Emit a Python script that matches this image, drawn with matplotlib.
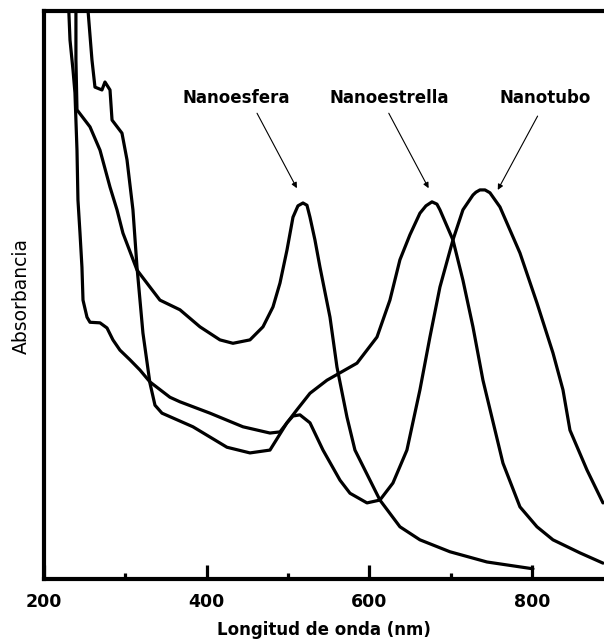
import matplotlib
matplotlib.use("Agg")
import matplotlib.pyplot as plt

plt.rcParams["font.family"] = ["DejaVu Sans"]

# wavelength (nm) / absorbance (a.u.)
esfera_wl = [239.3, 239.3, 240.6, 256.6, 268.9, 281.2, 289.8, 297.1, 314.4, 330.3,
             342.6, 367.2, 391.8, 416.4, 432.4, 453.3, 469.3, 481.6, 490.2, 498.8,
             506.2, 512.3, 518.5, 523.4, 527.1, 533.2, 539.4, 551.7, 560.3, 572.6,
             582.4, 613.1, 637.7, 662.3, 699.2, 744.7, 801.3]
esfera_abs = [1.037, 0.914, 0.826, 0.796, 0.755, 0.690, 0.650, 0.609, 0.544, 0.514,
              0.491, 0.474, 0.444, 0.421, 0.415, 0.421, 0.444, 0.479, 0.521, 0.579,
              0.637, 0.657, 0.662, 0.658, 0.637, 0.597, 0.549, 0.461, 0.373, 0.285,
              0.227, 0.139, 0.092, 0.069, 0.048, 0.030, 0.018]

estrella_wl = [229.5, 232.0, 235.7, 238.1, 240.6, 241.8, 244.3, 246.7, 248.0, 252.9,
               256.6, 268.9, 277.5, 284.8, 293.4, 305.7, 318.0, 330.3, 354.9, 367.2,
               404.1, 444.7, 477.9, 490.2, 498.8, 511.1, 527.1, 548.0, 564.0, 584.9,
               609.5, 625.4, 637.7, 650.0, 662.3, 669.7, 677.1, 683.2, 686.9, 702.9,
               715.2, 727.5, 739.8, 764.4, 785.3, 806.2, 825.9, 859.1, 887.4]
estrella_abs = [1.037, 0.949, 0.896, 0.856, 0.755, 0.667, 0.609, 0.549, 0.491, 0.461,
                0.452, 0.451, 0.442, 0.421, 0.403, 0.386, 0.368, 0.347, 0.320, 0.312,
                0.292, 0.268, 0.257, 0.259, 0.275, 0.298, 0.327, 0.350, 0.363, 0.380,
                0.426, 0.491, 0.562, 0.606, 0.644, 0.657, 0.664, 0.660, 0.650, 0.597,
                0.526, 0.444, 0.350, 0.204, 0.127, 0.092, 0.069, 0.046, 0.028]

tubo_wl = [254.1, 254.1, 259.0, 262.7, 271.3, 275.0, 281.2, 283.7, 295.9, 302.1,
           309.4, 314.4, 321.7, 330.3, 336.5, 345.1, 383.2, 425.0, 453.3, 477.9,
           498.8, 506.2, 514.8, 527.1, 543.1, 564.0, 576.3, 597.2, 613.1, 629.1,
           646.3, 662.3, 674.6, 686.9, 702.9, 715.2, 727.5, 731.2, 736.1, 742.3,
           748.4, 760.7, 785.3, 806.2, 825.9, 838.2, 846.8, 867.7, 887.4]
tubo_abs = [1.037, 1.002, 0.914, 0.866, 0.861, 0.875, 0.861, 0.808, 0.785, 0.738,
            0.650, 0.549, 0.433, 0.345, 0.306, 0.292, 0.268, 0.232, 0.222, 0.227,
            0.275, 0.287, 0.289, 0.275, 0.227, 0.174, 0.151, 0.134, 0.139, 0.169,
            0.227, 0.333, 0.426, 0.514, 0.597, 0.650, 0.676, 0.681, 0.685, 0.685,
            0.680, 0.655, 0.574, 0.486, 0.398, 0.333, 0.262, 0.192, 0.134]

labels = ["Nanoesfera", "Nanoestrella", "Nanotubo"]
label_xy = [(436, 0.847), (624, 0.847), (816, 0.847)]
arrow_start = [(462, 0.820), (624, 0.820), (807, 0.815)]
arrow_end = [(511, 0.688), (673, 0.688), (758, 0.685)]

fig = plt.figure(figsize=(6.04, 6.43), dpi=100)
ax = fig.add_axes([0.0728, 0.0995, 0.927, 0.8834])

for wl, ab in [(esfera_wl, esfera_abs), (estrella_wl, estrella_abs), (tubo_wl, tubo_abs)]:
    ax.plot(wl, ab, color="black", lw=2.3, solid_joinstyle="round", solid_capstyle="round")

for lbl, (tx, ty), s, e in zip(labels, label_xy, arrow_start, arrow_end):
    ax.text(tx, ty, lbl, ha="center", va="center", fontsize=12, fontweight="bold")
    ax.annotate("", xy=e, xytext=s,
                arrowprops=dict(arrowstyle="-|>", color="black", lw=0.8,
                                mutation_scale=8, shrinkA=0, shrinkB=0))

ax.set_xlim(200, 888.5)
ax.set_ylim(0, 1)
ax.set_xticks([200, 400, 600, 800])
ax.set_xticks([300, 500, 700], minor=True)
ax.set_yticks([])
ax.tick_params(axis="x", which="major", direction="in", length=10, width=2.3,
               labelsize=12.5, pad=10)
ax.tick_params(axis="x", which="minor", direction="in", length=4.5, width=2.3)
for t in ax.get_xticklabels():
    t.set_fontweight("bold")
for side in ["left", "bottom", "top"]:
    ax.spines[side].set_linewidth(3)
ax.spines["right"].set_visible(False)

ax.set_xlabel("Longitud de onda (nm)", fontsize=12, fontweight="bold", labelpad=7)
fig.text(21 / 604, 1 - 296 / 643, "Absorbancia", rotation=90, ha="center",
         va="center", fontsize=13.5)

fig.savefig("out.png", dpi=100)
